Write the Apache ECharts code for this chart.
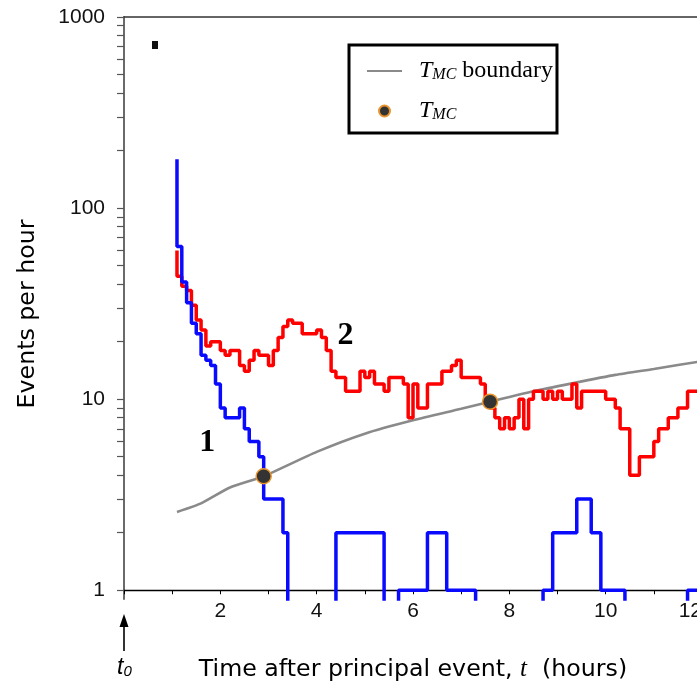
<!DOCTYPE html>
<html>
<head>
<meta charset="utf-8">
<script src="https://cdn.jsdelivr.net/npm/echarts@6/dist/echarts.min.js"></script>
<style>
  html, body { margin: 0; padding: 0; background: #fff; }
  #chart { width: 697px; height: 689px; }
</style>
</head>
<body>
<div id="chart"></div>
<script>
// step curves: each rate holds from its hour until the next hour
const blueHours = [1.1, 1.1, 1.2, 1.3, 1.4, 1.5, 1.6, 1.7, 1.8, 1.9, 2.0, 2.1, 2.4, 2.5, 2.6, 2.8, 2.9, 3.3, 3.4, 4.4, 5.4, 5.7, 6.3, 6.7, 7.3, 8.7, 8.9, 9.4, 9.7, 9.9, 10.4, 11.7, 12.5]
const blueRates = [180, 63, 41, 32, 25, 22, 17, 16, 15, 12, 9, 8, 9, 7, 6, 5, 3, 2, 0, 2, 0, 1, 2, 1, 0, 1, 2, 3, 2, 1, 0, 1, 1]

const redHours = [1.1, 1.1, 1.2, 1.3, 1.4, 1.5, 1.6, 1.7, 1.8, 2.0, 2.1, 2.2, 2.4, 2.5, 2.6, 2.7, 2.8, 3.0, 3.1, 3.2, 3.3, 3.4, 3.5, 3.7, 4.0, 4.1, 4.2, 4.3, 4.4, 4.6, 4.9, 5.0, 5.1, 5.2, 5.4, 5.5, 5.8, 5.9, 6.0, 6.1, 6.3, 6.6, 6.8, 6.9, 7.0, 7.4, 7.5, 7.6, 7.7, 7.8, 7.9, 8.0, 8.1, 8.2, 8.3, 8.4, 8.5, 8.7, 8.8, 8.9, 9.0, 9.1, 9.3, 9.4, 9.5, 10.0, 10.2, 10.3, 10.5, 10.7, 11.0, 11.1, 11.3, 11.5, 11.7, 12.5]
const redRates = [60, 44, 39, 37, 31, 26, 23, 19, 20, 18, 17, 18, 15, 14, 16, 18, 17, 15, 18, 21, 24, 26, 25, 22, 23, 21, 18, 14, 13, 11, 14, 13, 14, 12, 11, 13, 12, 8, 12, 9, 12, 14, 15, 16, 13, 12, 10, 9, 8, 7, 8, 7, 8, 10, 7, 10, 11, 10, 11, 10, 11, 10, 12, 9, 11, 10, 9, 7, 4, 5, 6, 7, 8, 9, 11, 11]

const boundaryHours = [1.1, 1.6, 2.2, 2.9, 4.0, 5.0, 6.0, 7.0, 7.6, 8.5, 9.3, 10.2, 11.0, 12.0, 12.5]
const boundaryRates = [2.57, 2.85, 3.45, 3.95, 5.3, 6.6, 7.75, 8.9, 9.7, 11.0, 12.1, 13.4, 14.4, 15.8, 16.4]

const tmcHours = [2.9, 7.6]
const tmcRates = [3.95, 9.7]

const xTicks = [0, 1, 2, 3, 4, 5, 6, 7, 8, 9, 10, 11, 12]
const xLabels = [2, 4, 6, 8, 10, 12]
const yLabels = [1, 10, 100, 1000]

// zero counts have no place on a log axis: push them below the floor so they get clipped
const BELOW_AXIS = 0.5
const yMin = 0.9

const yTicks = []
yLabels.slice(0, -1).forEach((d) => {
  for (let m = 1; m < 10; m++) yTicks.push(d * m)
})
yTicks.push(1000)

const pairs = (xs, ys) => xs.map((x, i) => [x, ys[i] > 0 ? ys[i] : BELOW_AXIS])

const tickFont = {
  fontFamily: 'Liberation Sans',
  fontSize: 21,
  color: '#111',
}
const numLabel = (text) => ({
  show: true,
  position: 'inside',
  formatter: text,
  fontFamily: 'Liberation Serif',
  fontWeight: 'bold',
  fontSize: 32,
  color: '#000',
})

const chart = echarts.init(document.getElementById('chart'))

const option = {
  animation: false,
  grid: {
    left: 124,
    top: 17,
    right: -5,
    bottom: 90,
    containLabel: false,
    outerBoundsMode: 'none',
  },
  xAxis: [
    {
      type: 'value',
      min: 0,
      max: 12,
      offset: -8.75, // x axis sits at rate = 1, grid floor is a bit lower
      axisLine: { show: true, lineStyle: { color: '#000', width: 1.3 } },
      axisTick: { show: true, length: 4, customValues: xTicks, lineStyle: { color: '#000', width: 1 } },
      axisLabel: { customValues: xLabels, margin: 10, alignMaxLabel: 'right', ...tickFont },
      splitLine: { show: false },
      name: 'Time after principal event, {it|t}  (hours)',
      nameLocation: 'middle',
      nameGap: 67,
      nameTextStyle: {
        fontFamily: 'DejaVu Sans',
        fontSize: 23.7,
        color: '#000',
        rich: {
          it: { fontFamily: 'Liberation Serif', fontStyle: 'italic', fontSize: 25, color: '#000' },
        },
      },
    },
    {
      // top frame line
      type: 'value',
      position: 'top',
      min: 0,
      max: 12,
      axisLine: { show: true, lineStyle: { color: '#333', width: 1.5 } },
      axisTick: { show: false },
      axisLabel: { show: false },
      splitLine: { show: false },
    },
  ],
  yAxis: {
    type: 'log',
    logBase: 10,
    min: yMin,
    max: 1000,
    axisLine: { show: true, lineStyle: { color: '#6a6a6a', width: 2 } },
    axisTick: { show: true, length: 7, customValues: yTicks, lineStyle: { color: '#555', width: 1.2 } },
    axisLabel: { customValues: yLabels, margin: 19, formatter: (v) => String(v), ...tickFont },
    minorTick: { show: false },
    splitLine: { show: false },
    name: 'Events per hour',
    nameLocation: 'middle',
    nameRotate: 90,
    nameGap: 84,
    nameTextStyle: {
      fontFamily: 'DejaVu Sans',
      fontSize: 23.7,
      color: '#000',
      padding: [0, 12, 0, 0],
    },
  },
  legend: {
    left: 349,
    top: 45,
    orient: 'vertical',
    backgroundColor: '#fff',
    borderColor: '#000',
    borderWidth: 3,
    borderRadius: 0,
    padding: [14, 4, 10, 17],
    itemWidth: 35,
    itemHeight: 11,
    itemGap: 16,
    data: [
      { name: 'TMC boundary', itemStyle: { color: 'rgba(0,0,0,0)', borderWidth: 0, opacity: 0 } },
      { name: 'TMC', icon: 'circle' },
    ],
    formatter: (name) => (name === 'TMC boundary' ? '{t|T}{s|MC} boundary' : '{t|T}{s|MC}'),
    textStyle: {
      fontFamily: 'Liberation Serif',
      fontSize: 24,
      color: '#000',
      padding: [0, 0, 0, 12],
      rich: {
        t: { fontFamily: 'Liberation Serif', fontStyle: 'italic', fontSize: 24, color: '#000' },
        s: {
          fontFamily: 'Liberation Serif',
          fontStyle: 'italic',
          fontSize: 16,
          color: '#000',
          verticalAlign: 'bottom',
          lineHeight: 16,
        },
      },
    },
  },
  series: [
    {
      name: 'TMC boundary',
      type: 'line',
      data: pairs(boundaryHours, boundaryRates),
      symbol: 'none',
      smooth: 0.2,
      lineStyle: { color: '#8a8a8a', width: 2.6 },
      itemStyle: { color: '#8a8a8a' },
      z: 2,
    },
    {
      name: 'Sequence 2',
      type: 'line',
      step: 'end',
      data: pairs(redHours, redRates),
      symbol: 'none',
      lineStyle: { color: '#ff0000', width: 3.5 },
      z: 3,
      markPoint: {
        symbol: 'circle',
        symbolSize: 1,
        itemStyle: { color: 'rgba(0,0,0,0)' },
        label: numLabel('2'),
        data: [{ coord: [4.6, 21.5] }],
      },
    },
    {
      name: 'Sequence 1',
      type: 'line',
      step: 'end',
      data: pairs(blueHours, blueRates),
      symbol: 'none',
      lineStyle: { color: '#0a0aff', width: 3.5 },
      z: 4,
      markPoint: {
        symbol: 'circle',
        symbolSize: 1,
        itemStyle: { color: 'rgba(0,0,0,0)' },
        label: numLabel('1'),
        data: [{ coord: [1.73, 5.9] }],
      },
    },
    {
      name: 'TMC',
      type: 'scatter',
      data: pairs(tmcHours, tmcRates),
      symbol: 'circle',
      symbolSize: 15,
      itemStyle: { color: '#333333', borderColor: '#e8942c', borderWidth: 1.5, opacity: 1 },
      z: 6,
    },
  ],
  graphic: [
    // t0 arrow under the origin
    {
      type: 'line',
      shape: { x1: 124, y1: 651, x2: 124, y2: 624 },
      style: { stroke: '#000', lineWidth: 1.6 },
    },
    {
      type: 'polygon',
      shape: { points: [[124, 614], [119.5, 627], [128.5, 627]] },
      style: { fill: '#000' },
    },
    {
      type: 'text',
      left: 117,
      top: 656,
      style: {
        text: '{t|t}{s|0}',
        rich: {
          t: { fontFamily: 'Liberation Sans', fontStyle: 'italic', fontSize: 23, fill: '#000' },
          s: { fontFamily: 'Liberation Sans', fontStyle: 'italic', fontSize: 15, fill: '#000', verticalAlign: 'bottom', lineHeight: 15 },
        },
      },
    },
    // clipped panel letter in the top-left corner
    {
      type: 'rect',
      shape: { x: 152, y: 41, width: 6, height: 8 },
      style: { fill: '#111' },
    },
  ],
}

chart.setOption(option)
</script>
</body>
</html>
